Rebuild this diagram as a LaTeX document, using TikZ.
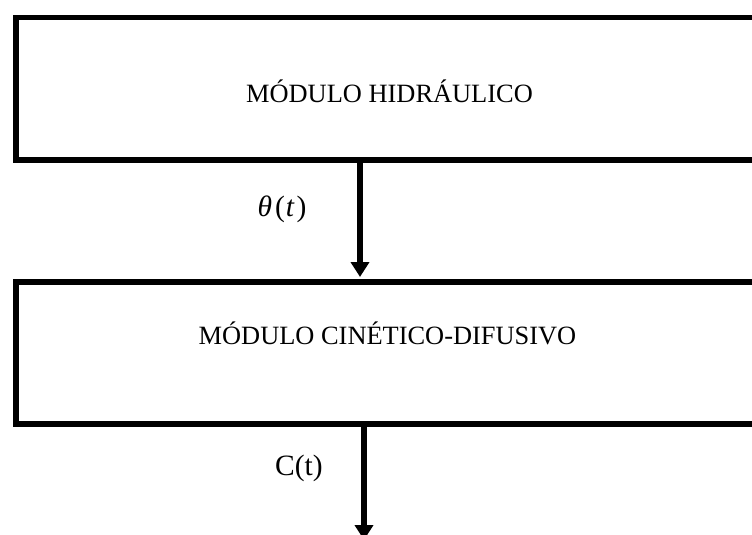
\documentclass[tikz,border=0pt]{standalone}
\usepackage{fontspec}
\setmainfont{Liberation Serif}
\usetikzlibrary{arrows.meta}
\begin{document}
\begin{tikzpicture}[x=1pt,y=-1pt,
  modbox/.style={draw=black,line width=5.5pt,minimum width=749pt,minimum height=142pt,inner sep=0pt,anchor=north west},
  lbl/.style={font=\fontsize{26.4}{30}\selectfont,inner sep=0pt,anchor=base},
  sig/.style={font=\fontsize{29.5}{34}\selectfont,inner sep=0pt,anchor=base},
  flow/.style={line width=6pt,-{Triangle[length=15pt,width=18pt]}}]
\useasboundingbox (0,0) rectangle (752,535);
\clip (0,0) rectangle (752,535);
\node[modbox] (hid) at (13,15) {};
\node[modbox] (cin) at (13,279) {};
\node[lbl] (thid) at (389.5,102) {MÓDULO HIDRÁULICO};
\node[lbl] (tcin) at (387.5,344) {MÓDULO CINÉTICO-DIFUSIVO};
\coordinate (a1s) at (360,157);
\coordinate (a1e) at (360,277);
\coordinate (a2s) at (364,421);
\coordinate (a2e) at (364,540);
\draw[flow] (a1s) -- (a1e);
\draw[flow] (a2s) -- (a2e);
\node[sig] (theta) at (282,216) {\textit{θ}\kern3pt(\kern1pt\textit{t}\kern2pt)};
\node[sig] (ct) at (299,475) {C(t)};
\end{tikzpicture}
\end{document}
